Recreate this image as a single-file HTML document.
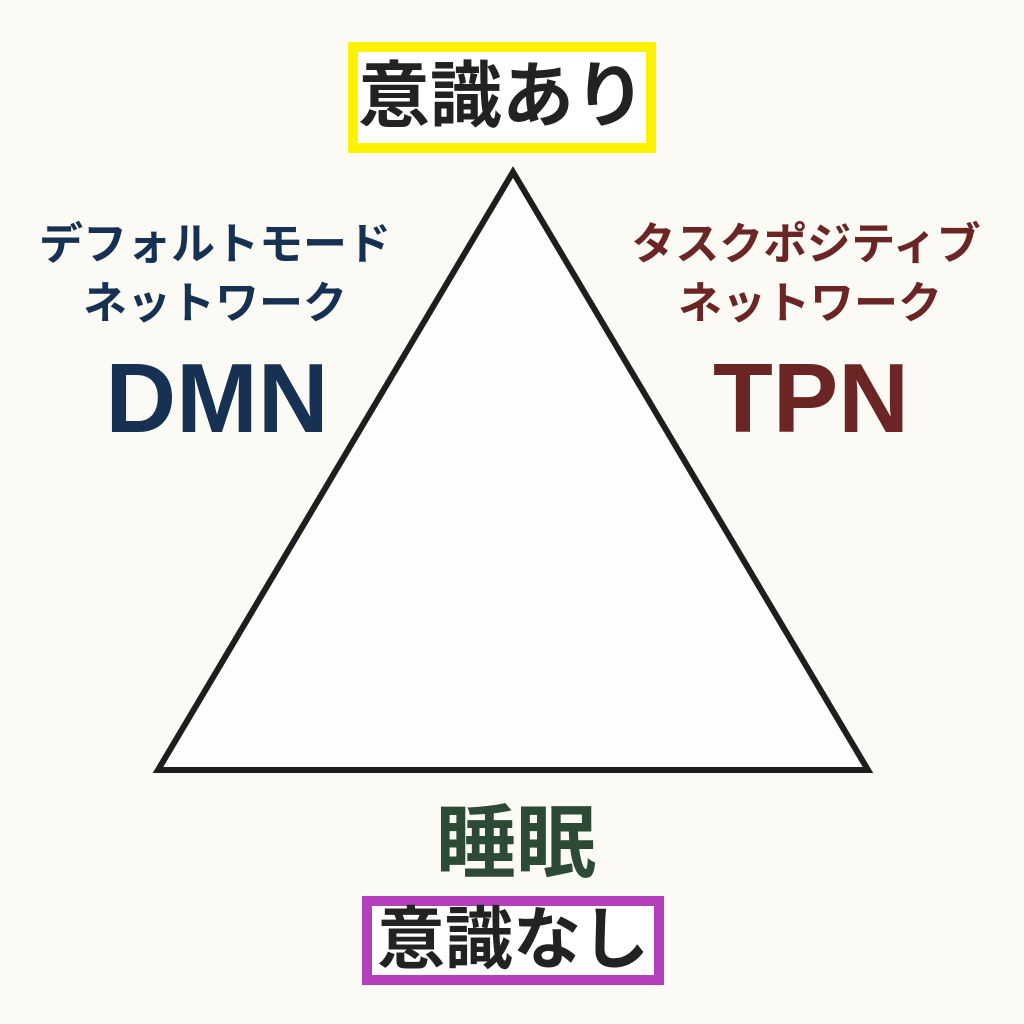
<!DOCTYPE html>
<html><head><meta charset="utf-8"><style>
body{margin:0;width:1024px;height:1024px;background:#fcfaf5;position:relative;overflow:hidden;font-family:"Liberation Sans","Noto Sans CJK JP",sans-serif;}
.a{position:absolute;white-space:nowrap;text-align:center;font-weight:bold;line-height:1;}
.box{position:absolute;box-sizing:border-box;background:#fff;}
</style></head><body>
<svg width="1024" height="1024" style="position:absolute;left:0;top:0">
<polygon points="513,172 158,770 868,770" fill="#fffefc" stroke="#1e1e1e" stroke-width="6" stroke-linejoin="miter"/>
</svg>
<div class="box" style="left:348px;top:42px;width:308px;height:111px;border:10px solid #fff200"></div>
<div class="a" style="left:348px;top:61px;width:308px;font-size:72px;color:#222;">意識あり</div>
<div class="box" style="left:362px;top:896px;width:302px;height:89px;border:10px solid #b43fba"></div>
<div class="a" style="left:362px;top:906px;width:302px;font-size:68px;color:#222;">意識なし</div>
<div class="a" style="left:416px;top:804px;width:200px;font-size:80px;color:#2d4a35;">睡眠</div>
<div class="a" style="left:15px;top:223px;width:400px;font-size:44px;color:#163152">デフォルトモード</div>
<div class="a" style="left:15px;top:282px;width:400px;font-size:44px;color:#163152">ネットワーク</div>
<div class="a" style="left:17px;top:349px;width:400px;font-size:98px;color:#163152">DMN</div>
<div class="a" style="left:606px;top:223px;width:400px;font-size:44px;color:#6b2525">タスクポジティブ</div>
<div class="a" style="left:610px;top:282px;width:400px;font-size:44px;color:#6b2525">ネットワーク</div>
<div class="a" style="left:611px;top:349px;width:400px;font-size:98px;color:#6b2525">TPN</div>
</body></html>
